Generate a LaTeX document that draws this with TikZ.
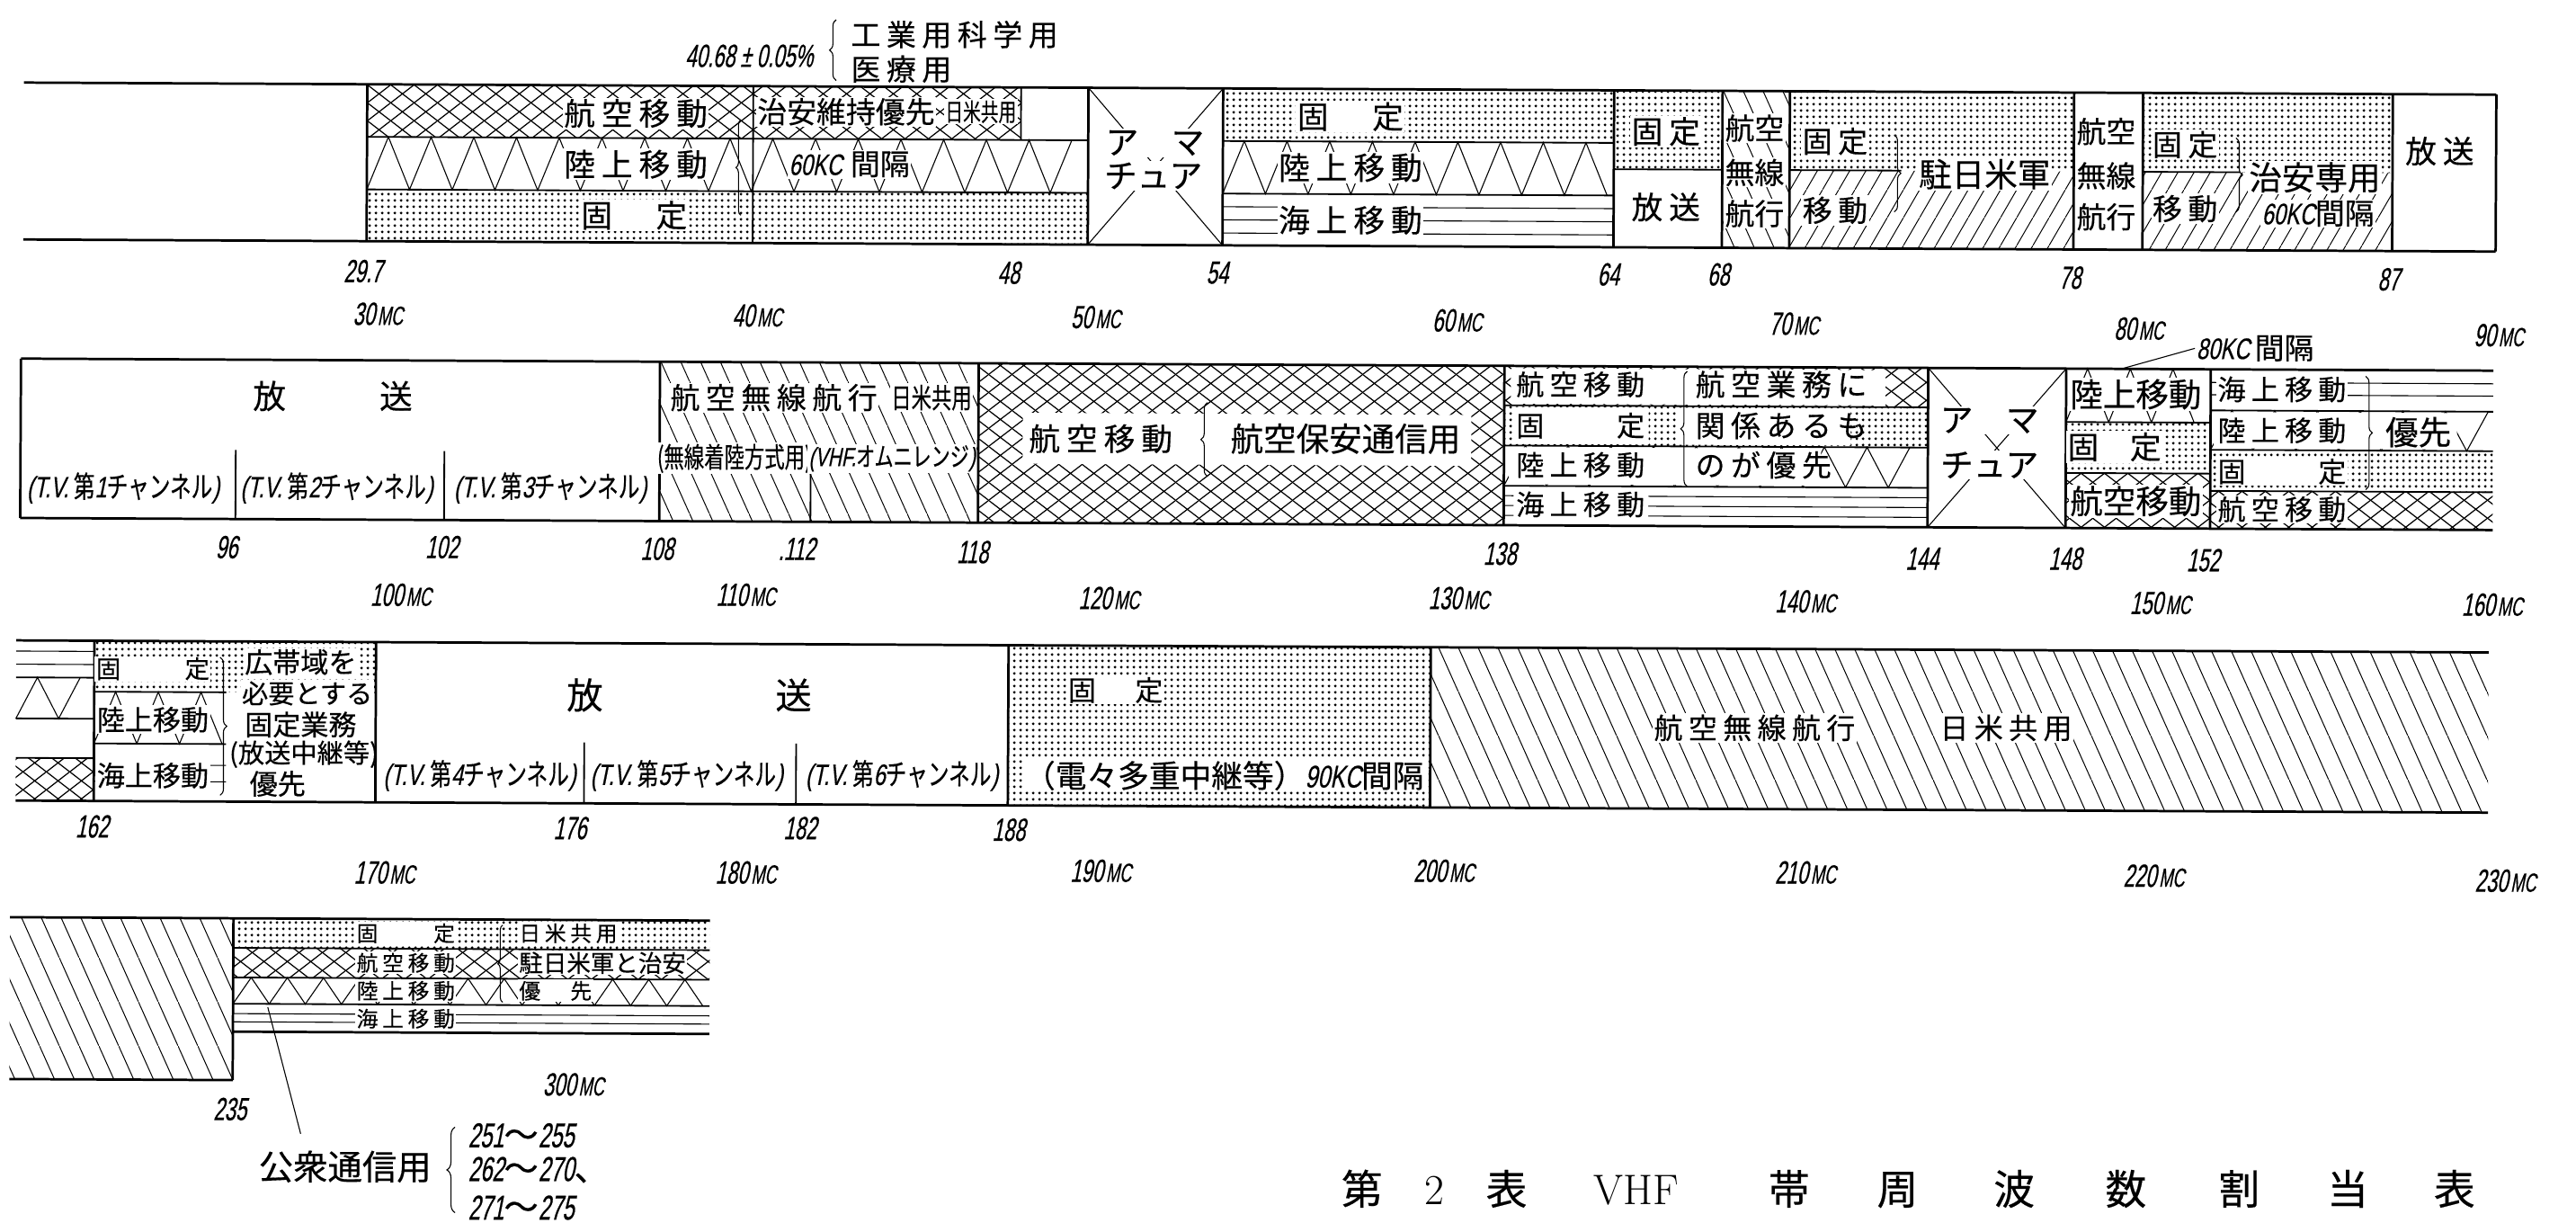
\documentclass[tikz,border=0pt]{standalone}
\usepackage{fontspec}
\newfontfamily\jp[FakeBold=0.4]{Noto Sans CJK JP}
\newfontfamily\jpw[LetterSpace=20,FakeBold=0.4]{Noto Sans CJK JP}
\newfontfamily\jpn[FakeStretch=0.72,FakeBold=0.4]{Noto Sans CJK JP}
\newfontfamily\nm[FakeStretch=0.72,FakeSlant=0.2,FakeBold=0.4]{Liberation Sans}
\newfontfamily\nmt[FakeStretch=0.62,FakeSlant=0.2,FakeBold=0.5]{Liberation Sans}
\usetikzlibrary{patterns,decorations.pathreplacing}
\newcommand\fs[1]{\fontsize{#1}{#1}\selectfont}
\newcommand\MC[1]{{\nmt\fs{19.5}#1\kern1.5pt\fs{16}MC}}
\newcommand\TV[1]{{\nm(T.V.\,}{\jpn 第}{\nm #1}{\jpn チャンネル}{\nm)}}
\pgfdeclarepatternformonly{xh}{\pgfqpoint{0pt}{0pt}}{\pgfqpoint{14pt}{11pt}}{\pgfqpoint{14pt}{11pt}}{%
  \pgfsetlinewidth{0.7pt}%
  \pgfpathmoveto{\pgfqpoint{-1.4pt}{-1.1pt}}\pgfpathlineto{\pgfqpoint{15.4pt}{12.1pt}}%
  \pgfpathmoveto{\pgfqpoint{-1.4pt}{12.1pt}}\pgfpathlineto{\pgfqpoint{15.4pt}{-1.1pt}}%
  \pgfusepath{stroke}}
\pgfdeclarepatternformonly{dt}{\pgfqpoint{0pt}{0pt}}{\pgfqpoint{3.6pt}{3.6pt}}{\pgfqpoint{3.6pt}{3.6pt}}{%
  \pgfpathcircle{\pgfqpoint{1.8pt}{1.8pt}}{0.95pt}\pgfusepath{fill}}
\pgfdeclarepatternformonly{ne}{\pgfqpoint{0pt}{0pt}}{\pgfqpoint{10pt}{17pt}}{\pgfqpoint{10pt}{17pt}}{%
  \pgfsetlinewidth{0.55pt}%
  \pgfpathmoveto{\pgfqpoint{-1pt}{-1.7pt}}\pgfpathlineto{\pgfqpoint{11pt}{18.7pt}}\pgfusepath{stroke}}
\pgfdeclarepatternformonly{nw}{\pgfqpoint{0pt}{0pt}}{\pgfqpoint{12pt}{27pt}}{\pgfqpoint{12pt}{27pt}}{%
  \pgfsetlinewidth{0.55pt}%
  \pgfpathmoveto{\pgfqpoint{-1.2pt}{29.7pt}}\pgfpathlineto{\pgfqpoint{13.2pt}{-2.7pt}}\pgfusepath{stroke}}
\newcommand\zigz[5]{%
  \pgfmathtruncatemacro\zn{2*(#2-#1)/#5}%
  \draw[pl] (#1,#4) \foreach \k in {1,...,\zn}{ -- ({#1+\k*#5/2},{ifthenelse(isodd(\k),#3,#4)}) };}
\newcommand\sea[3]{\foreach \yy in {#3}{\draw[pl] (#1,\yy)--(#2,\yy);}}
\begin{document}
\begin{tikzpicture}[x=1pt,y=-1pt,
  bord/.style={line width=1.5pt},
  divl/.style={line width=1pt},
  pl/.style={line width=0.6pt},
  wt/.style={fill=white,inner sep=0.8pt},
  tx/.style={inner sep=0.8pt},
  num/.style={font=\nmt\fs{19.5},inner sep=0pt},
  brc/.style={pl,decorate,decoration={brace,amplitude=#1}}]
\fill[white] (0,0) rectangle (1568,744);
\useasboundingbox (0,0) rectangle (1568,744);
% ================= SHAPES (slightly rotated like the scan)
\begin{scope}[rotate around={-0.28:(784,372)}]
% ---- row 1
\fill[pattern=xh] (222,54) rectangle (620,86);
\fill[pattern=dt] (222,118) rectangle (661,149.5);
\zigz{222}{661}{86}{118}{26}
\fill[pattern=dt] (743,54) rectangle (981,86);
\zigz{743}{981}{86}{118}{26}
\sea{743}{981}{126,134,142}
\fill[pattern=dt] (981,54) rectangle (1047,102);
\fill[pattern=nw] (1047,54) rectangle (1088,149.5);
\fill[pattern=dt] (1088,54) rectangle (1261,102);
\fill[pattern=ne] (1088,102) rectangle (1261,149.5);
\fill[pattern=dt] (1303,54) rectangle (1455,102);
\fill[pattern=ne] (1303,102) rectangle (1455,149.5);
\draw[pl] (661,54)--(743,149.5) (743,54)--(661,149.5);
\draw[divl] (457,54)--(457,149.5) (620,54)--(620,86)
  (222,86)--(661,86) (222,118)--(661,118)
  (743,86)--(981,86) (743,118)--(981,118)
  (981,102)--(1047,102) (1088,102)--(1156,102) (1303,102)--(1362,102);
\draw[bord] (13,54)--(1518,54) (13,149.5)--(1518,149.5);
\foreach \xx in {222,661,743,981,1047,1088,1261,1303,1455,1518}{\draw[bord] (\xx,54)--(\xx,149.5);}
% ---- row 2
\fill[pattern=nw] (401,222) rectangle (595,319);
\fill[pattern=xh] (595,222) rectangle (915,319);
\fill[white] (622,252) rectangle (895,283);
\fill[pattern=xh] (915,222) rectangle (1173,246);
\fill[pattern=dt] (915,246) rectangle (1173,270.5);
\zigz{915}{1173}{270.5}{295}{26}
\sea{915}{1173}{301,307,313}
\fill[white] (919,223.5) rectangle (1147,245);
\fill[white] (921,247) rectangle (1003,269.5) (1020,247) rectangle (1126,269.5);
\fill[white] (918,271.5) rectangle (1108,294);
\fill[white] (921,296) rectangle (1003,318);
\draw[pl] (1173,222)--(1257,319) (1257,222)--(1173,319);
\zigz{1257}{1345}{222}{254.5}{26}
\fill[pattern=dt] (1257,254.5) rectangle (1345,285.5);
\fill[pattern=xh] (1257,285.5) rectangle (1345,319);
\sea{1345}{1517}{230,237.5}
\zigz{1345}{1517}{247}{271}{26}
\fill[white] (1347,248) rectangle (1495,270);
\fill[pattern=dt] (1345,271) rectangle (1517,296);
\fill[pattern=xh] (1345,296) rectangle (1517,319);
\draw[divl] (143,277)--(143,319) (270,277)--(270,319) (493,281.5)--(493,319)
  (915,246)--(1173,246) (915,270.5)--(1173,270.5) (915,295)--(1173,295)
  (1257,254.5)--(1345,254.5) (1257,285.5)--(1345,285.5)
  (1345,247)--(1517,247) (1345,271)--(1517,271) (1345,296)--(1517,296);
\draw[bord] (12,222)--(1517,222) (12,319)--(1517,319);
\foreach \xx in {12,401,595,915,1173,1257,1345}{\draw[bord] (\xx,222)--(\xx,319);}
% ---- row 3
\sea{10}{57.6}{400,408}
\zigz{10}{57.6}{416}{441}{26}
\fill[pattern=xh] (10,465) rectangle (57.6,491);
\fill[pattern=dt] (57.6,393.5) rectangle (229,424.5);
\zigz{57.6}{138}{424.5}{456}{26}
\sea{57.6}{138}{469,479}
\fill[pattern=dt] (614,393.5) rectangle (871,491);
\fill[pattern=nw] (871,393.5) rectangle (1515,491);
\draw[divl] (10,416)--(57.6,416) (10,441)--(57.6,441) (10,465)--(57.6,465)
  (57.6,424.5)--(138,424.5) (57.6,456)--(138,456)
  (356,454)--(356,491) (485,454)--(485,491);
\draw[bord] (10,393.5)--(1515,393.5) (10,491)--(1515,491);
\foreach \xx in {57.6,229,614,871}{\draw[bord] (\xx,393.5)--(\xx,491);}
% ---- row 4
\fill[pattern=nw] (7,562) rectangle (143,660.5);
\fill[pattern=dt] (143,562) rectangle (433,580);
\fill[pattern=xh] (143,580) rectangle (433,598);
\zigz{143}{433}{598}{614}{22}
\sea{143}{433}{620,625}
\draw[divl] (143,580)--(433,580) (143,598)--(433,598) (143,614)--(433,614);
\draw[bord] (7,562)--(433,562) (7,660.5)--(143,660.5) (143,562)--(143,660.5) (143,631)--(433,631);
\end{scope}
% ================= ROW 1 TEXT
\node[wt,font=\jpw\fs{19}] (a1) at (387,69) {航空移動};
\node[wt,font=\jpw\fs{19}] (a2) at (387,100) {陸上移動};
\node[wt,font=\jpw\fs{19}] (a3) at (386,131) {固　定};
\draw[brc=3pt] (451,131)--(451,73);
\node[wt,font=\jp\fs{18}] (a4) at (515,68) {治安維持優先};
\node[wt,font=\jpn\fs{15}] (a5) at (597,68) {日米共用};
\node[wt,font=\jp\fs{18}] (a6) at (517,100) {{\nm 60KC}\hspace{5pt}間隔};
\node[num] (a7) at (456,34) {40.68\,±\,0.05\%};
\draw[brc=4pt] (509,49)--(509,12);
\node[tx,anchor=west,font=\jpw\fs{18}] (a8) at (517,21) {工業用科学用};
\node[tx,anchor=west,font=\jpw\fs{18}] (a9) at (517,42) {医療用};
\node[wt,font=\jp\fs{20}] (a10) at (703,87) {ア　マ};
\node[wt,font=\jp\fs{20}] (a11) at (702,107) {チュア};
\node[wt,font=\jpw\fs{19}] (a12) at (822,71) {固　定};
\node[wt,font=\jpw\fs{19}] (a13) at (822,102) {陸上移動};
\node[wt,font=\jpw\fs{19}] (a14) at (822,134) {海上移動};
\node[wt,font=\jpw\fs{19}] (a15) at (1014,80) {固定};
\node[tx,font=\jpw\fs{19}] (a16) at (1014,126) {放送};
\node[wt,font=\jp\fs{18}] (a17) at (1068,78) {航空};
\node[wt,font=\jp\fs{18}] (a18) at (1068,105) {無線};
\node[wt,font=\jp\fs{18}] (a19) at (1068,130) {航行};
\node[wt,font=\jpw\fs{18}] (a20) at (1117,86) {固定};
\node[wt,font=\jpw\fs{18}] (a21) at (1117,128) {移動};
\draw[brc=4pt] (1153,82)--(1153,129);
\node[wt,font=\jp\fs{20}] (a22) at (1208,106) {駐日米軍};
\node[tx,font=\jp\fs{18}] (a23) at (1282,80) {航空};
\node[tx,font=\jp\fs{18}] (a24) at (1282,107) {無線};
\node[tx,font=\jp\fs{18}] (a25) at (1282,132) {航行};
\node[wt,font=\jpw\fs{18}] (a26) at (1330,88) {固定};
\node[wt,font=\jpw\fs{18}] (a27) at (1330,127) {移動};
\draw[brc=4pt] (1361,84)--(1361,129);
\node[wt,font=\jp\fs{20}] (a28) at (1409,108) {治安専用};
\node[wt,font=\jp\fs{18}] (a29) at (1411,130) {{\nm 60KC}間隔};
\node[tx,font=\jpw\fs{19}] (a30) at (1485,92) {放送};
\foreach \t/\x/\y [count=\i] in {29.7/221/165,48/614/166,54/741/166,64/979/167,68/1046/167,78/1260/169,87/1454/170}{\node[num] (n1\i) at (\x,\y) {\t};}
\foreach \t/\x/\y [count=\i] in {30/230/191,40/461/192,50/667/193,60/887/195,70/1092/197,80/1302/200,90/1521/204}{\node[num] (m1\i) at (\x,\y) {\MC{\t}};}
% ================= ROW 2 TEXT
\node[tx,font=\jp\fs{20}] (d1) at (164,241) {放};
\node[tx,font=\jp\fs{20}] (d2) at (241,241) {送};
\node[tx,font=\fs{18}] (d3) at (75,297) {\TV{1}};
\node[tx,font=\fs{18}] (d4) at (205,297) {\TV{2}};
\node[tx,font=\fs{18}] (d5) at (335,297) {\TV{3}};
\node[wt,font=\jpw\fs{18}] (d6) at (471,242) {航空無線航行};
\node[wt,font=\jpn\fs{17}] (d7) at (567,242) {日米共用};
\node[wt,font=\jpn\fs{17}] (d8) at (447,279) {(無線着陸方式用)};
\node[wt,font=\jpn\fs{16}] (d9) at (543,279) {{\nm(VHF.}オムニレンジ{\nm)}};
\node[tx,font=\jpw\fs{19}] (d10) at (670,267) {航空移動};
\draw[brc=4pt] (735,290)--(735,245);
\node[tx,font=\jp\fs{20}] (d11) at (819,267) {航空保安通信用};
\node[tx,font=\jpw\fs{17}] (d12) at (962,234) {航空移動};
\node[tx,font=\jpw\fs{17}] (d13) at (962,259) {固　　定};
\node[tx,font=\jpw\fs{17}] (d14) at (962,283) {陸上移動};
\node[tx,font=\jpw\fs{17}] (d15) at (962,307) {海上移動};
\draw[brc=4pt] (1027,296)--(1027,226);
\node[tx,anchor=west,font=\jpw\fs{18}] (d16) at (1031,234) {航空業務に};
\node[tx,anchor=west,font=\jpw\fs{18}] (d17) at (1031,259) {関係あるも};
\node[tx,anchor=west,font=\jpw\fs{18}] (d18) at (1031,283) {のが優先};
\node[wt,font=\jp\fs{20}] (d19) at (1211,256) {ア　マ};
\node[wt,font=\jp\fs{20}] (d20) at (1211,283) {チュア};
\node[wt,font=\jp\fs{20}] (d21) at (1300,240) {陸上移動};
\node[wt,font=\jp\fs{19}] (d22) at (1287,272) {固　定};
\node[wt,font=\jp\fs{20}] (d23) at (1300,305) {航空移動};
\node[tx,anchor=west,font=\jp\fs{18}] (d24) at (1336,212) {{\nm 80KC}\,間隔};
\coordinate (d24e) at (1293,224);
\draw[pl] (d24.west) -- (d24e);
\node[wt,font=\jpw\fs{17}] (d25) at (1389,237) {海上移動};
\node[tx,font=\jpw\fs{17}] (d26) at (1389,262) {陸上移動};
\node[wt,font=\jpw\fs{17}] (d27) at (1389,287) {固　　定};
\node[wt,font=\jpw\fs{17}] (d28) at (1389,310) {航空移動};
\draw[brc=4pt] (1440,229)--(1440,298);
\node[tx,font=\jp\fs{20}] (d29) at (1472,263) {優先};
\foreach \t/\x/\y [count=\i] in {96/138/333,102/269/333,108/400/334,.112/485/334,118/592/336,138/913/337,144/1170/340,148/1257/340,152/1341/341}{\node[num] (n2\i) at (\x,\y) {\t};}
\foreach \t/\x/\y [count=\i] in {100/244/362,110/454/362,120/675/364,130/888/364,140/1099/366,150/1315/367,160/1517/368}{\node[num] (m2\i) at (\x,\y) {\MC{\t}};}
% ================= ROW 3 TEXT
\node[wt,font=\jpw\fs{15}] (e1) at (93,407) {固　　定};
\node[wt,font=\jp\fs{17}] (e2) at (93,438) {陸上移動};
\node[wt,font=\jp\fs{17}] (e3) at (93,472) {海上移動};
\draw[brc=4pt] (134,400)--(134,484);
\node[wt,font=\jp\fs{17}] (e4) at (183,403) {広帯域を};
\node[wt,font=\jp\fs{16}] (e5) at (187,422) {必要とする};
\node[tx,font=\jp\fs{17}] (e6) at (183,441) {固定業務};
\node[tx,font=\jp\fs{16}] (e7) at (185,459) {(放送中継等)};
\node[tx,font=\jp\fs{17}] (e8) at (169,477) {優先};
\node[tx,font=\jp\fs{22}] (e9) at (356,423) {放};
\node[tx,font=\jp\fs{22}] (e10) at (483,423) {送};
\node[tx,font=\fs{18}] (e11) at (292,472) {\TV{4}};
\node[tx,font=\fs{18}] (e12) at (418,472) {\TV{5}};
\node[tx,font=\fs{18}] (e13) at (549,472) {\TV{6}};
\node[wt,font=\jpw\fs{17}] (e14) at (679,420) {固　定};
\node[wt,font=\jp\fs{19}] (e15) at (745,472) {（電々多重中継等）{\nm 90KC}間隔};
\node[wt,font=\jpw\fs{17.5}] (e16) at (1068,443) {航空無線航行};
\node[wt,font=\jpw\fs{17.5}] (e17) at (1221,443) {日米共用};
\foreach \t/\x/\y [count=\i] in {162/56/503,176/347/504,182/487/504,188/614/505}{\node[num] (n3\i) at (\x,\y) {\t};}
\foreach \t/\x/\y [count=\i] in {170/234/531,180/454/531,190/670/530,200/879/530,210/1099/531,220/1311/533,230/1525/536}{\node[num] (m3\i) at (\x,\y) {\MC{\t}};}
% ================= ROW 4 TEXT
\node[wt,font=\jpw\fs{13}] (f1) at (247,568) {固　　定};
\node[wt,font=\jpw\fs{13}] (f2) at (247,586) {航空移動};
\node[wt,font=\jpw\fs{13}] (f3) at (247,603) {陸上移動};
\node[wt,font=\jpw\fs{13}] (f4) at (247,620) {海上移動};
\draw[brc=3pt] (306,610)--(306,563);
\node[wt,anchor=west,font=\jpw\fs{13}] (f5) at (315,568) {日米共用};
\node[wt,anchor=west,font=\jp\fs{14.5}] (f6) at (315,586) {駐日米軍と治安};
\node[wt,anchor=west,font=\jpw\fs{13}] (f7) at (315,603) {優　先};
\node[num] (f8) at (140,675) {235};
\node[num] (f9) at (349,660) {\MC{300}};
\coordinate (f10) at (163,613);
\coordinate (f11) at (183,690);
\draw[pl] (f10)--(f11);
\node[tx,font=\jp\fs{21}] (f12) at (210,710) {公衆通信用};
\draw[brc=5pt] (277,738)--(277,686);
\node[tx,anchor=west,font=\nmt\fs{21}] (f13) at (284,691) {251{\jp 〜}255};
\node[tx,anchor=west,font=\nmt\fs{21}] (f14) at (284,712) {262{\jp 〜}270{\jp 、}};
\node[tx,anchor=west,font=\nmt\fs{21}] (f15) at (284,735) {271{\jp 〜}275};
% ================= CAPTION
\foreach \ch/\cx [count=\ci] in {第/829,表/917,帯/1089,周/1155,波/1226,数/1294,割/1363,当/1429,表/1494}{\node[tx,anchor=base,font=\jp\fs{25}] (cap\ci) at (\cx,733) {\ch};}
\node[tx,anchor=base,font=\rmfamily\fs{26}] (capn) at (873,733) {2};
\node[tx,anchor=base,font=\rmfamily\fs{26}] (capv) at (996,733) {VHF};
\end{tikzpicture}
\end{document}
